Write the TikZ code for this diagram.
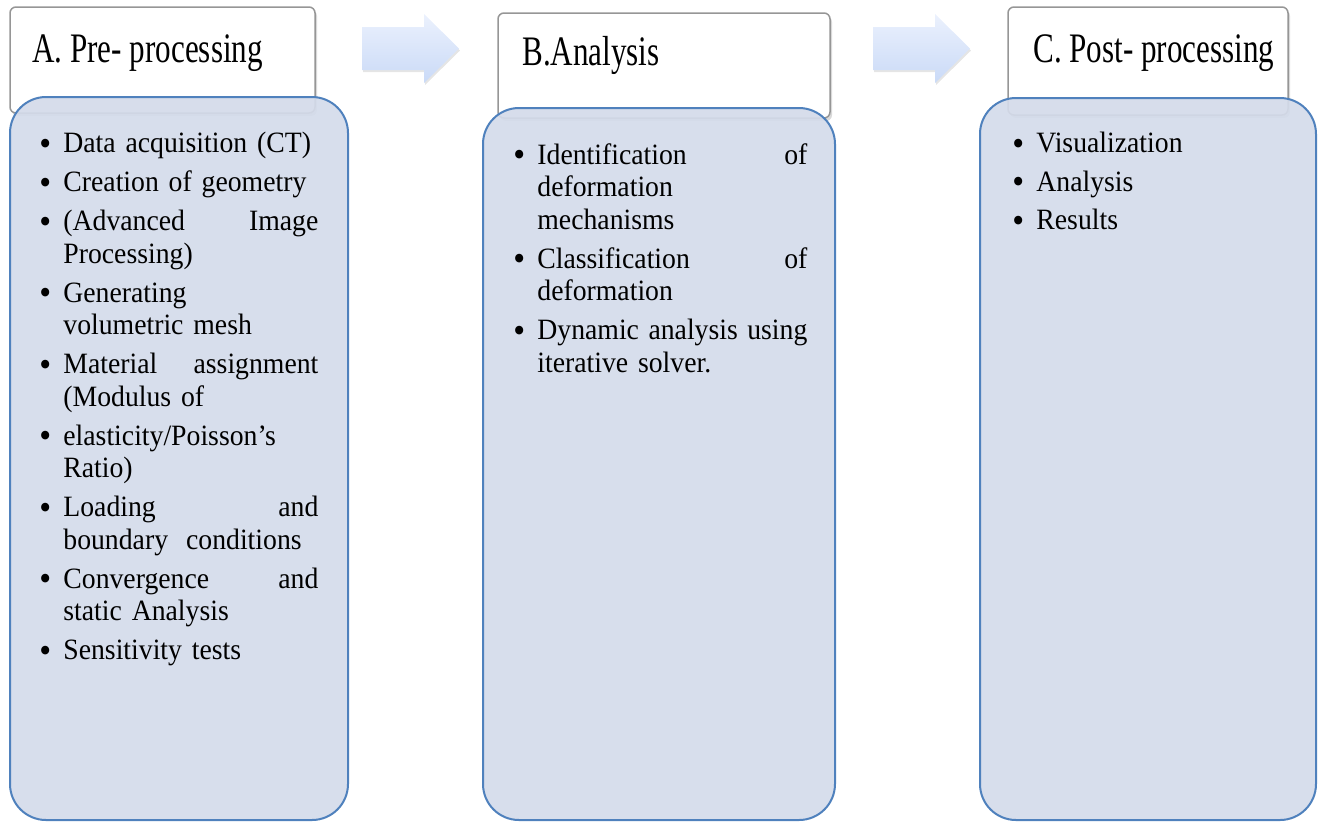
\documentclass[tikz,border=0pt]{standalone}
\usepackage{fontspec}
\setmainfont{Liberation Serif}
\newfontfamily\headfont[FakeStretch=0.74]{Liberation Serif}
\newfontfamily\listfont[FakeStretch=0.94]{Liberation Serif}
\usepackage{xcolor}
\usetikzlibrary{shadows}

\definecolor{bodyfill}{RGB}{212,219,234}
\definecolor{bodyline}{RGB}{79,129,189}
\definecolor{headline}{RGB}{150,150,150}
\definecolor{arrtop}{RGB}{235,241,253}
\definecolor{arrbot}{RGB}{202,218,247}

\newcommand{\bul}{\makebox[12pt][l]{\raisebox{-1.2pt}{\fontsize{18}{18}\selectfont\textbullet}}}
\newcommand{\ind}{\hspace*{12pt}}

\begin{document}
\begin{tikzpicture}[
    x=0.5pt, y=-0.5pt,
    headbox/.style={draw=headline, line width=0.75pt, fill=white, rounded corners=3pt,
                    drop shadow={shadow xshift=1pt, shadow yshift=-1.5pt, fill=black, opacity=0.15}},
    bodybox/.style={draw=bodyline, line width=1pt, fill=bodyfill, fill opacity=0.92,
                    rounded corners=18pt},
    headtxt/.style={font=\headfont\fontsize{21}{24}\selectfont, inner sep=0pt, anchor=base west},
    listtxt/.style={font=\listfont\fontsize{14.75}{16.25}\selectfont, inner sep=0pt,
                    anchor=north west, align=left},
    blockarrow/.style={top color=arrtop, bottom color=arrbot, draw=none,
                    drop shadow={shadow xshift=0.5pt, shadow yshift=-1pt, fill=black, opacity=0.1}}
]
\useasboundingbox (0,0) rectangle (1319,821);

% headers
\node[headbox, minimum width=152.5pt, minimum height=53pt]   (headA) at (162.5,60) {};
\node[headbox, minimum width=166pt,   minimum height=52.5pt] (headB) at (664,65.5) {};
\node[headbox, minimum width=140pt,   minimum height=54pt]   (headC) at (1148,61) {};

% block arrows between the headers
\foreach \ax in {362,873}
  \path[blockarrow] (\ax,27) -- ++(62,0) -- ++(0,-13) -- ++(35,34.5) -- ++(-35,34.5)
                    -- ++(0,-13) -- ++(-62,0) -- cycle;

% bodies
\node[bodybox, minimum width=169pt, minimum height=361.5pt] (bodyA) at (179,458.5) {};
\node[bodybox, minimum width=176pt, minimum height=356pt]   (bodyB) at (659,464) {};
\node[bodybox, minimum width=168pt, minimum height=361pt]   (bodyC) at (1148,459) {};

% titles
\node[headtxt] (titleA) at (32,62)   {A. Pre- processing};
\node[headtxt] (titleB) at (522,65)  {B.Analysis};
\node[headtxt] (titleC) at (1033,62) {C. Post- processing};

% lists
\node[listtxt, text width=139.5pt] (listA) at (39,132) {%
  \bul Data acquisition (CT)\\[3.25pt]
  \bul Creation of geometry\\[3.25pt]
  \bul (Advanced\hfill Image\\
  \ind Processing)\\[3.25pt]
  \bul Generating\\
  \ind volumetric mesh\\[3.25pt]
  \bul Material\hfill assignment\\
  \ind (Modulus of\\[3.25pt]
  \bul elasticity/Poisson’s\\
  \ind Ratio)\\[3.25pt]
  \bul Loading\hfill and\\
  \ind boundary\hspace{9pt}conditions\\[3.25pt]
  \bul Convergence\hfill and\\
  \ind static Analysis\\[3.25pt]
  \bul Sensitivity tests};
\node[listtxt, text width=147pt] (listB) at (513,143) {%
  \bul Identification\hfill of\\
  \ind deformation\\
  \ind mechanisms\\[3.25pt]
  \bul Classification\hfill of\\
  \ind deformation\\[3.25pt]
  \bul Dynamic\hfill analysis\hfill using\\
  \ind iterative solver.};
\node[listtxt, text width=140pt] (listC) at (1012,132) {%
  \bul Visualization\\[3pt]
  \bul Analysis\\[3pt]
  \bul Results};
\end{tikzpicture}
\end{document}
